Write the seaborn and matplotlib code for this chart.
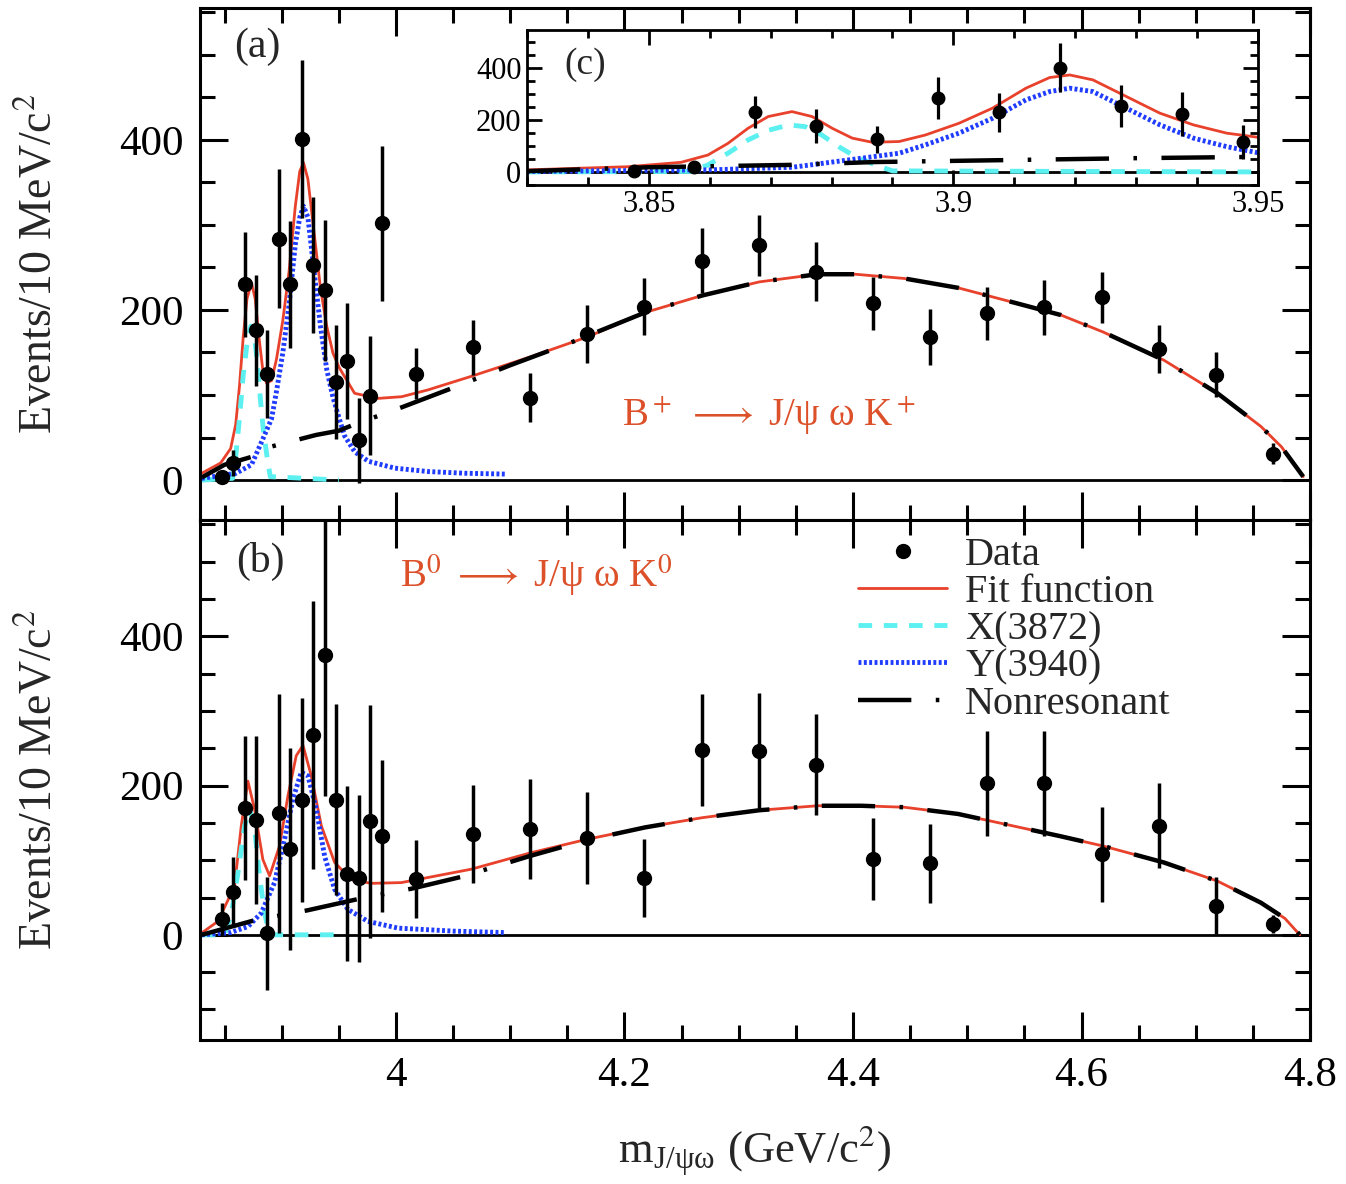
import matplotlib
matplotlib.use('Agg')
import matplotlib.pyplot as plt
from matplotlib.lines import Line2D
from matplotlib.ticker import MultipleLocator, FuncFormatter
import seaborn as sns

# bin centres (GeV/c^2): 10 MeV bins near threshold, then 50 MeV bins
x_narrow = [3.8475, 3.8575, 3.8675, 3.8775, 3.8875, 3.8975, 3.9075, 3.9175,
            3.9275, 3.9375, 3.9475, 3.9575, 3.9675, 3.9775, 3.9875]
x_wide = [4.0175, 4.0675, 4.1175, 4.1675, 4.2175, 4.2675, 4.3175, 4.3675,
          4.4175, 4.4675, 4.5175, 4.5675, 4.6175, 4.6675, 4.7175, 4.7675]

# (a) B+ data
a_narrow = [3, 20, 230, 176, 125, 284, 230, 401, 253, 223, 115, 140, 47, 99, 302]
a_narrow_err = [5, 15, 62, 65, 52, 82, 75, 93, 80, 83, 67, 68, 50, 70, 91]
a_wide = [125, 156, 97, 172, 204, 258, 276, 245, 208, 168, 196, 203, 215, 154, 124, 31]
a_wide_err = [30, 32, 29, 34, 33, 38, 36, 35, 31, 33, 31, 32, 30, 28, 26, 12]

# (b) B0 data
b_narrow = [21, 58, 170, 154, 2, 163, 115, 181, 268, 375, 181, 82, 76, 152, 132]
b_narrow_err = [21, 46, 96, 113, 76, 160, 135, 137, 180, 189, 128, 117, 112, 156, 102]
b_wide = [75, 135, 142, 130, 76, 248, 247, 228, 102, 96, 203, 203, 108, 146, 39, 15]
b_wide_err = [52, 66, 67, 62, 52, 75, 77, 68, 55, 53, 70, 70, 64, 57, 38, 12]

# (a) fit curves
a_fit_x = [3.830, 3.8465, 3.8553, 3.8597, 3.863, 3.8663, 3.8696, 3.8735, 3.8768,
           3.8801, 3.8834, 3.8867, 3.8911, 3.8954, 3.9009, 3.9064, 3.9119, 3.9158,
           3.9191, 3.9229, 3.9284, 3.9339, 3.9394, 3.9449, 3.9504, 3.9638, 3.9842,
           4.005, 4.028, 4.066, 4.118, 4.167, 4.218, 4.268, 4.318, 4.369, 4.402,
           4.445, 4.492, 4.540, 4.582, 4.619, 4.672, 4.719, 4.757, 4.775, 4.794]
a_fit_y = [8, 20, 37, 65, 110, 168, 213, 232, 213, 168, 130, 114, 117, 142, 187,
           245, 322, 363, 373, 354, 290, 226, 181, 149, 132, 102, 96, 98, 106, 122,
           145, 168, 197, 217, 233, 242, 242, 237, 226, 209, 194, 174, 141, 102, 63,
           39, 4]
a_x_x = [3.830, 3.857, 3.8597, 3.863, 3.8663, 3.8696, 3.873, 3.8757, 3.8784,
         3.8812, 3.8839, 3.8872, 3.890, 3.950]
a_x_y = [0, 2, 27, 72, 123, 160, 181, 174, 142, 97, 59, 27, 4, 0]
a_y_x = [3.830, 3.860, 3.8736, 3.885, 3.8911, 3.8954, 3.9009, 3.9064, 3.9119,
         3.9158, 3.9191, 3.9229, 3.9284, 3.9339, 3.9394, 3.9449, 3.9504, 3.955,
         3.964, 3.976, 3.999, 4.028, 4.060, 4.096]
a_y_y = [2, 8, 18, 53, 72, 104, 149, 206, 277, 309, 322, 309, 245, 181, 130, 97,
         72, 52, 33, 22, 14, 10, 8, 7]
a_nr_x = [3.830, 3.850, 3.873, 3.887, 3.910, 3.930, 3.950, 3.961, 4.006, 4.049,
          4.100, 4.150, 4.218, 4.268, 4.318, 4.369, 4.402, 4.445, 4.492, 4.540,
          4.582, 4.619, 4.672, 4.719, 4.757, 4.775, 4.794]
a_nr_y = [3, 18, 27, 38, 46, 53, 58, 64, 86, 108, 135, 160, 197, 217, 233, 242,
          242, 237, 226, 209, 194, 174, 141, 102, 63, 39, 4]

# (b) fit curves
b_fit_x = [3.8295, 3.8441, 3.8587, 3.8646, 3.8704, 3.8763, 3.8835, 3.8894,
           3.8981, 3.9054, 3.9127, 3.9186, 3.9259, 3.9347, 3.9463, 3.9609, 3.9784,
           4.0047, 4.066, 4.118, 4.167, 4.218, 4.268, 4.318, 4.369, 4.407, 4.445,
           4.492, 4.540, 4.582, 4.619, 4.672, 4.719, 4.757, 4.778, 4.791]
b_fit_y = [2, 18, 65, 146, 206, 168, 101, 79, 119, 186, 240, 254, 213, 146, 97,
           74, 69, 70, 88, 110, 128, 144, 157, 167, 173, 173, 171, 162, 146, 132,
           119, 97, 72, 43, 22, 0]
b_x_x = [3.830, 3.850, 3.856, 3.8617, 3.8675, 3.8719, 3.876, 3.8806, 3.885,
         3.8894, 3.947]
b_x_y = [0, 0, 29, 83, 146, 168, 146, 79, 29, 0, 0]
b_y_x = [3.830, 3.855, 3.8704, 3.882, 3.8937, 3.9025, 3.9098, 3.9171, 3.923,
         3.9303, 3.9376, 3.9463, 3.958, 3.9755, 4.0018, 4.050, 4.096]
b_y_y = [0, 3, 11, 29, 70, 128, 182, 218, 213, 168, 105, 61, 34, 18, 9, 5, 3]
b_nr_x = [3.830, 3.875, 3.923, 3.964, 4.014, 4.058, 4.118, 4.167, 4.218, 4.268,
          4.318, 4.369, 4.407, 4.445, 4.492, 4.540, 4.582, 4.619, 4.672, 4.719,
          4.757, 4.778, 4.791]
b_nr_y = [0, 19, 33, 47, 62, 78, 106, 127, 144, 157, 167, 173, 173, 171, 162,
          146, 132, 119, 97, 72, 43, 22, 0]

legend_labels = ['Data', 'Fit function', 'X(3872)', 'Y(3940)', 'Nonresonant']

RED = '#e8412c'
CYAN = '#5cf0f0'
BLUE = '#1f3cff'
TXT = '#dc502a'

sns.set_theme(style='ticks')
plt.rcParams['font.family'] = ['Liberation Serif', 'DejaVu Serif']
plt.rcParams['mathtext.fontset'] = 'stix'

styles = {
    'fit': dict(color=RED, linewidth=2.0, linestyle='-'),
    'x': dict(color=CYAN, linewidth=3.5, linestyle=(0, (2.8, 2.4))),
    'y': dict(color=BLUE, linewidth=3.5, linestyle=(0, (0.6, 0.5))),
    'nr': dict(color='black', linewidth=3.2, linestyle=(0, (12, 5.5, 0.8, 5.5))),
}


def curve(ax, xs, ys, key):
    sns.lineplot(x=xs, y=ys, ax=ax, sort=False, estimator=None, errorbar=None,
                 legend=False, **styles[key])


def draw_panel(ax, curves, data, ms=10, elw=2.5):
    ax.axhline(0, color='black', lw=2, zorder=1)
    for xs, ys, key in curves:
        curve(ax, xs, ys, key)
    for xs, ys, es in data:
        ax.errorbar(xs, ys, yerr=es, fmt='o', color='black', ms=ms,
                    elinewidth=elw, capsize=0, zorder=5)


def style_axes(ax, xmaj, xmin, ymaj, ymin, lmaj, lmin, lw=2.2):
    ax.xaxis.set_major_locator(MultipleLocator(xmaj))
    ax.xaxis.set_minor_locator(MultipleLocator(xmin))
    ax.yaxis.set_major_locator(MultipleLocator(ymaj))
    ax.yaxis.set_minor_locator(MultipleLocator(ymin))
    fmt = FuncFormatter(lambda v, p: f'{v:g}')
    ax.xaxis.set_major_formatter(fmt)
    ax.yaxis.set_major_formatter(fmt)
    ax.tick_params(which='both', direction='in', top=True, right=True,
                   width=lw, colors='black')
    ax.tick_params(which='major', length=lmaj)
    ax.tick_params(which='minor', length=lmin)
    for s in ax.spines.values():
        s.set_linewidth(lw)
        s.set_color('black')
    ax.grid(False)


fig = plt.figure(figsize=(13.46, 11.84), dpi=100)
ax_a = fig.add_axes([0.1486, 0.5608, 0.8247, 0.4324])
ax_b = fig.add_axes([0.1486, 0.1216, 0.8247, 0.4392])
ax_c = fig.add_axes([0.3915, 0.8438, 0.5431, 0.1309])

data_a = [(x_narrow, a_narrow, a_narrow_err), (x_wide, a_wide, a_wide_err)]
data_b = [(x_narrow, b_narrow, b_narrow_err), (x_wide, b_wide, b_wide_err)]
curves_a = [(a_fit_x, a_fit_y, 'fit'), (a_x_x, a_x_y, 'x'), (a_y_x, a_y_y, 'y'),
            (a_nr_x, a_nr_y, 'nr')]
curves_b = [(b_fit_x, b_fit_y, 'fit'), (b_x_x, b_x_y, 'x'), (b_y_x, b_y_y, 'y'),
            (b_nr_x, b_nr_y, 'nr')]

# (a) B+
draw_panel(ax_a, curves_a, data_a)
ax_a.set_xlim(3.8285, 4.8)
ax_a.set_ylim(-47, 555)
style_axes(ax_a, 0.2, 0.05, 200, 50, 20, 11)
ax_a.tick_params(labelbottom=False, labelsize=31, pad=12)
ax_a.set_xlabel('')
ax_a.set_ylabel(r'Events/10 MeV/c$^2$', fontsize=33)
ax_a.yaxis.set_label_coords(-0.125, 0.5)
ax_a.text(3.879, 510, '(a)', fontsize=30, ha='center', va='center')
ax_a.text(4.326, 76, r'B$^+$ $\longrightarrow$ J/ψ ω K$^+$', fontsize=28, color=TXT,
          ha='center', va='center')

# (b) B0
draw_panel(ax_b, curves_b, data_b)
ax_b.set_xlim(3.8285, 4.8)
ax_b.set_ylim(-141, 556)
style_axes(ax_b, 0.2, 0.05, 200, 50, 20, 11)
ax_b.tick_params(labelsize=31, pad=12)
ax_b.set_ylabel(r'Events/10 MeV/c$^2$', fontsize=33)
ax_b.yaxis.set_label_coords(-0.125, 0.5)
ax_b.set_xlabel(r'm$_{\mathregular{J/ψω}}$ (GeV/c$^2$)', fontsize=32)
ax_b.xaxis.set_label_coords(0.5, -0.16)
ax_b.text(3.881, 501, '(b)', fontsize=30, ha='center', va='center')
ax_b.text(4.1226, 482, r'B$^0$ $\longrightarrow$ J/ψ ω K$^0$', fontsize=28, color=TXT,
          ha='center', va='center')

handles = [
    Line2D([], [], marker='o', ls='none', color='black', ms=10),
    Line2D([], [], **styles['fit']),
    Line2D([], [], **styles['x']),
    Line2D([], [], **styles['y']),
    Line2D([], [], **styles['nr']),
]
ax_b.legend(handles, legend_labels, loc='upper left', bbox_to_anchor=(0.593, 0.968),
            frameon=False, fontsize=29, handlelength=2.2, handletextpad=0.45,
            labelspacing=0.0, borderpad=0, borderaxespad=0)

# (c) inset zoom of (a)
draw_panel(ax_c, curves_a, data_a, ms=9, elw=2.3)
ax_c.set_xlim(3.83, 3.95)
ax_c.set_ylim(-50, 546)
style_axes(ax_c, 0.05, 0.01, 200, 50, 11, 6, lw=2.0)
ax_c.tick_params(labelsize=22, pad=4)
ax_c.set_xlabel('')
ax_c.set_ylabel('')
ax_c.text(3.8396, 412, '(c)', fontsize=27, ha='center', va='center')

fig.savefig('out.png', dpi=100)
